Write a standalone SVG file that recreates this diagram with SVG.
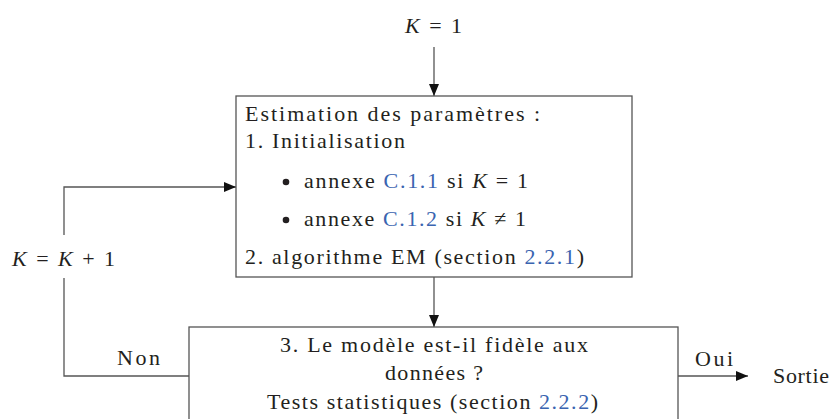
<svg xmlns="http://www.w3.org/2000/svg" width="832" height="419" viewBox="0 0 832 419">
<style>
text{font-family:"Liberation Serif","Times New Roman",serif;font-size:22px;fill:#231f20}
.i{font-style:italic}
.l{fill:#3a64b0}
.box{fill:#fff;stroke:#555;stroke-width:1.3}
.c{fill:none;stroke:#555;stroke-width:1.3}
</style>
<defs>
<marker id="ah" viewBox="0 0 12 10" refX="12" refY="5" markerWidth="12" markerHeight="10" markerUnits="userSpaceOnUse" orient="auto">
<path d="M0,0 L12,5 L0,10 z" fill="#111"/>
</marker>
</defs>
<g id="connectors">
<path class="c" d="M434,47 V96" marker-end="url(#ah)"/>
<path class="c" d="M434,277 V327" marker-end="url(#ah)"/>
<path class="c" d="M189,376 H64 V278"/>
<path class="c" d="M64,235 V187 H236" marker-end="url(#ah)"/>
<path class="c" d="M678,376 H748" marker-end="url(#ah)"/>
<text x="12" y="266" textLength="103" lengthAdjust="spacing"><tspan class="i">K</tspan> = <tspan class="i">K</tspan> + 1</text>
<text x="117" y="365" textLength="43" lengthAdjust="spacing">Non</text>
<text x="695" y="366" textLength="38" lengthAdjust="spacing">Oui</text>
</g>
<g id="start">
<text x="405" y="33" textLength="57" lengthAdjust="spacing"><tspan class="i">K</tspan> = 1</text>
</g>
<g id="estimation">
<rect class="box" x="236" y="96" width="396" height="181"/>
<text x="245" y="121" textLength="295" lengthAdjust="spacing">Estimation des paramètres :</text>
<text x="245" y="148" textLength="160" lengthAdjust="spacing">1. Initialisation</text>
<circle cx="286" cy="182" r="3.3" fill="#231f20"/>
<text x="304" y="188" textLength="224" lengthAdjust="spacing">annexe <tspan class="l">C.1.1</tspan> si <tspan class="i">K</tspan> = 1</text>
<circle cx="286" cy="220" r="3.3" fill="#231f20"/>
<text x="304" y="226" textLength="222" lengthAdjust="spacing">annexe <tspan class="l">C.1.2</tspan> si <tspan class="i">K</tspan> ≠ 1</text>
<text x="245" y="264" textLength="339" lengthAdjust="spacing">2. algorithme EM (section <tspan class="l">2.2.1</tspan>)</text>
</g>
<g id="test">
<rect class="box" x="189" y="327" width="489" height="100"/>
<text x="280" y="352" textLength="308" lengthAdjust="spacing">3. Le modèle est-il fidèle aux</text>
<text x="385" y="380" textLength="98" lengthAdjust="spacing">données ?</text>
<text x="267" y="409" textLength="331" lengthAdjust="spacing">Tests statistiques (section <tspan class="l">2.2.2</tspan>)</text>
</g>
<g id="sortie">
<text x="773" y="383" textLength="56" lengthAdjust="spacing">Sortie</text>
</g>
</svg>
